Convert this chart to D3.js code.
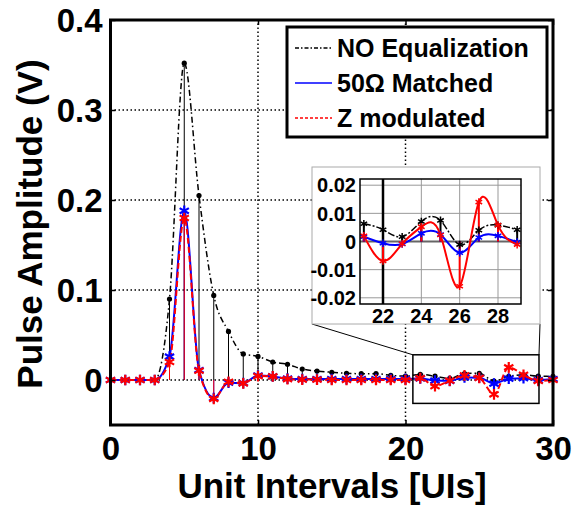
<!DOCTYPE html>
<html>
<head>
<meta charset="utf-8">
<script src="https://cdn.jsdelivr.net/npm/d3@7"></script>
<style>
  body { margin: 0; background: #fff; }
  text { font-family: "Liberation Sans", Arial, sans-serif; font-weight: bold; fill: #000; }
</style>
</head>
<body>
<div id="chart"></div>
<script>
// ---------------- data ----------------
const unitIntervals = [0,1,2,3,4,5,6,7,8,9,10,11,12,13,14,15,16,17,18,19,20,21,22,23,24,25,26,27,28,29,30];
const noEqualization = [0,0,0,0,0.09,0.352,0.205,0.094,0.054,0.029,0.0262,0.020,0.0175,0.0122,0.010,0.0086,0.0074,0.007,0.007,0.0052,0.0044,
  0.0063,0.0042,0.0017,0.0071,0.0075,-0.0011,0.0040,0.0058,0.0042,0.004];
const matched50 = [0,0,0,0,0.026,0.188,0.011,-0.020,-0.003,-0.0035,0.005,0.004,0.0015,0.001,0.001,0.001,0.001,0.001,0.001,0.001,0.001,
  0.0017,-0.0006,-0.0009,0.0029,0.0025,-0.0040,0.0014,0.0020,-0.0002,0.001];
const zModulated = [0,0,0,0,0.020,0.180,0.0103,-0.021,-0.002,-0.0037,0.0044,0.004,0.001,0.0005,0.0005,0,0,0,0,0,0,
  0.0020,-0.0069,-0.0008,0.0052,0.0023,-0.0159,0.0140,0.0058,-0.0011,0];

const xTicks = [0, 10, 20, 30];
const yTicks = [0, 0.1, 0.2, 0.3, 0.4];
const yTickLabels = ["0", "0.1", "0.2", "0.3", "0.4"];
const xGrid = [10, 20];
const yGrid = [0, 0.1, 0.2, 0.3];
const insetXTicks = [22, 24, 26, 28];
const insetYTicks = [-0.02, -0.01, 0, 0.01, 0.02];
const insetYTickLabels = ["-0.02", "-0.01", "0", "0.01", "0.02"];
const legendLabels = ["NO Equalization", "50\u03A9 Matched", "Z modulated"];
const zoomWindowX = [20.5, 29.05];
const zoomWindowY = [-0.026, 0.028];

// ---------------- setup ----------------
const width = 578, height = 506;

const svg = d3.select("#chart").append("svg")
  .attr("width", width)
  .attr("height", height);

const x = d3.scaleLinear().domain([0, 30]).range([110.5, 553]);
const y = d3.scaleLinear().domain([-0.05, 0.4]).range([425, 20]);

const series = [
  { name: legendLabels[0], values: noEqualization, color: "#000", dash: "6,3,1.5,3", w: 1.5, marker: "dot" },
  { name: legendLabels[1], values: matched50, color: "#0000ff", dash: null, w: 2, marker: "star" },
  { name: legendLabels[2], values: zModulated, color: "#ff0000", dash: "6,3", w: 2, marker: "star" }
];

// ---------------- grid ----------------
const grid = svg.append("g").attr("stroke", "#000").attr("stroke-width", 1.5).attr("stroke-dasharray", "1.5,2.5");
grid.selectAll(".gx").data(xGrid).enter().append("line")
  .attr("x1", d => x(d)).attr("x2", d => x(d))
  .attr("y1", y.range()[0]).attr("y2", y.range()[1]);
grid.selectAll(".gy").data(yGrid).enter().append("line")
  .attr("x1", x.range()[0]).attr("x2", x.range()[1])
  .attr("y1", d => y(d)).attr("y2", d => y(d));

// ---------------- stems ----------------
series.forEach(s => {
  svg.append("g").selectAll("line")
    .data(unitIntervals).enter().append("line")
    .attr("x1", d => x(d)).attr("x2", d => x(d))
    .attr("y1", y(0)).attr("y2", (d, i) => y(s.values[i]))
    .attr("stroke", s.color).attr("stroke-width", 1);
});

// ---------------- lines ----------------
const line = d3.line()
  .x(d => x(d[0]))
  .y(d => y(d[1]))
  .curve(d3.curveMonotoneX);

series.forEach(s => {
  svg.append("path")
    .datum(unitIntervals.map((u, i) => [u, s.values[i]]))
    .attr("d", line)
    .attr("fill", "none")
    .attr("stroke", s.color)
    .attr("stroke-width", s.w)
    .attr("stroke-dasharray", s.dash);
});

// ---------------- markers ----------------
const star = d3.symbol(d3.symbolAsterisk, 80);
series.forEach(s => {
  const g = svg.append("g");
  if (s.marker === "dot") {
    g.selectAll("circle").data(unitIntervals).enter().append("circle")
      .attr("cx", d => x(d)).attr("cy", (d, i) => y(s.values[i]))
      .attr("r", 2.6).attr("fill", s.color);
  } else {
    g.selectAll("path").data(unitIntervals).enter().append("path")
      .attr("d", star)
      .attr("transform", (d, i) => "translate(" + x(d) + "," + y(s.values[i]) + ")")
      .attr("fill", "none").attr("stroke", s.color).attr("stroke-width", 2.2);
  }
});

// ---------------- axes ----------------
const xAxis = d3.axisBottom(x).tickValues(xTicks).tickSize(-5).tickPadding(12);
const yAxis = d3.axisLeft(y).tickValues(yTicks).tickFormat((d, i) => yTickLabels[i]).tickSize(-5).tickPadding(8);

const gx = svg.append("g").attr("transform", "translate(0," + y.range()[0] + ")").call(xAxis);
const gy = svg.append("g").attr("transform", "translate(" + x.range()[0] + ",0)").call(yAxis);
svg.append("g").attr("transform", "translate(0," + y.range()[1] + ")")
  .call(d3.axisTop(x).tickValues(xTicks).tickSize(-5).tickFormat(""));
svg.append("g").attr("transform", "translate(" + x.range()[1] + ",0)")
  .call(d3.axisRight(y).tickValues(yTicks).tickSize(-5).tickFormat(""));

svg.selectAll(".domain").remove();
svg.selectAll(".tick line").attr("stroke", "#000").attr("stroke-width", 1.5);
gx.selectAll("text").style("font-size", "33px").attr("fill", "#000");
gy.selectAll("text").style("font-size", "33px").attr("fill", "#000").attr("dy", "0.36em");

// frame
svg.append("rect")
  .attr("x", x.range()[0]).attr("y", y.range()[1])
  .attr("width", x.range()[1] - x.range()[0])
  .attr("height", y.range()[0] - y.range()[1])
  .attr("fill", "none").attr("stroke", "#000").attr("stroke-width", 3);

// axis titles
svg.append("text")
  .attr("x", 332).attr("y", 498)
  .attr("text-anchor", "middle")
  .style("font-size", "35px")
  .text("Unit Intervals [UIs]");

svg.append("text")
  .attr("transform", "translate(42,224) rotate(-90)")
  .attr("text-anchor", "middle")
  .style("font-size", "35px")
  .text("Pulse Amplitude (V)");

// ---------------- zoom window + connectors ----------------
const zx0 = x(zoomWindowX[0]), zx1 = x(zoomWindowX[1]);
const zy0 = y(zoomWindowY[1]), zy1 = y(zoomWindowY[0]);
const insetBox = { x0: 312, y0: 167, x1: 540, y1: 324 };

svg.append("rect")
  .attr("x", zx0).attr("y", zy0)
  .attr("width", zx1 - zx0).attr("height", zy1 - zy0)
  .attr("fill", "none").attr("stroke", "#000").attr("stroke-width", 1.5);

svg.append("line")
  .attr("x1", insetBox.x0).attr("y1", insetBox.y1).attr("x2", zx0).attr("y2", zy0)
  .attr("stroke", "#000").attr("stroke-width", 1);
svg.append("line")
  .attr("x1", insetBox.x1).attr("y1", insetBox.y1).attr("x2", zx1).attr("y2", zy0)
  .attr("stroke", "#000").attr("stroke-width", 1);

// ---------------- inset ----------------
svg.append("rect")
  .attr("x", insetBox.x0).attr("y", insetBox.y0)
  .attr("width", insetBox.x1 - insetBox.x0).attr("height", insetBox.y1 - insetBox.y0)
  .attr("fill", "#fff").attr("stroke", "#aaa").attr("stroke-width", 1);

const xi = d3.scaleLinear().domain([20.8, 29.2]).range([360, 521]);
const yi = d3.scaleLinear().domain([-0.0222, 0.0222]).range([304, 179]);

const inset = svg.append("g");
inset.append("defs").append("clipPath").attr("id", "insetClip")
  .append("rect").attr("x", 360).attr("y", 179).attr("width", 161).attr("height", 125);

// inset grid
inset.selectAll(".igx").data(insetXTicks).enter().append("line")
  .attr("x1", d => xi(d)).attr("x2", d => xi(d))
  .attr("y1", yi.range()[0]).attr("y2", yi.range()[1])
  .attr("stroke", "#999").attr("stroke-width", 1);
inset.selectAll(".igy").data(insetYTicks).enter().append("line")
  .attr("x1", xi.range()[0]).attr("x2", xi.range()[1])
  .attr("y1", d => yi(d)).attr("y2", d => yi(d))
  .attr("stroke", d => d === 0 ? "#666" : "#999").attr("stroke-width", d => d === 0 ? 2 : 1);
inset.append("line")
  .attr("x1", xi(insetXTicks[0])).attr("x2", xi(insetXTicks[0]))
  .attr("y1", yi.range()[0]).attr("y2", yi.range()[1])
  .attr("stroke", "#000").attr("stroke-width", 2.5);

const insetIdx = unitIntervals.map((u, i) => i).filter(i => unitIntervals[i] >= 21 && unitIntervals[i] <= 29);
const lineInset = d3.line().x(d => xi(d[0])).y(d => yi(d[1])).curve(d3.curveNatural);
const clipG = inset.append("g").attr("clip-path", "url(#insetClip)");

series.forEach(s => {
  clipG.append("g").selectAll("line").data(insetIdx).enter().append("line")
    .attr("x1", i => xi(unitIntervals[i])).attr("x2", i => xi(unitIntervals[i]))
    .attr("y1", yi(0)).attr("y2", i => yi(s.values[i]))
    .attr("stroke", s.color).attr("stroke-width", 2);
});
series.forEach(s => {
  clipG.append("path")
    .datum(insetIdx.map(i => [unitIntervals[i], s.values[i]]))
    .attr("d", lineInset)
    .attr("fill", "none")
    .attr("stroke", s.color)
    .attr("stroke-width", s.marker === "dot" ? 1.5 : 2)
    .attr("stroke-dasharray", s.marker === "dot" ? "7,2,2,2" : null);
});
const starSmall = d3.symbol(d3.symbolAsterisk, 40);
series.forEach(s => {
  clipG.append("g").selectAll("path").data(insetIdx).enter().append("path")
    .attr("d", starSmall)
    .attr("transform", i => "translate(" + xi(unitIntervals[i]) + "," + yi(s.values[i]) + ")")
    .attr("fill", "none").attr("stroke", s.color).attr("stroke-width", 1.5);
});

inset.append("rect")
  .attr("x", 360).attr("y", 179).attr("width", 161).attr("height", 125)
  .attr("fill", "none").attr("stroke", "#000").attr("stroke-width", 1.5);

inset.selectAll(".ixl").data(insetXTicks).enter().append("text")
  .attr("x", d => xi(d)).attr("y", 323)
  .attr("text-anchor", "middle").style("font-size", "20px")
  .text(d => d);
inset.selectAll(".iyl").data(insetYTicks).enter().append("text")
  .attr("x", 356).attr("y", d => yi(d)).attr("dy", "0.36em")
  .attr("text-anchor", "end").style("font-size", "20px")
  .text((d, i) => insetYTickLabels[i]);

// ---------------- legend ----------------
const legend = svg.append("g");
legend.append("rect")
  .attr("x", 287).attr("y", 27).attr("width", 260).attr("height", 110)
  .attr("fill", "#fff").attr("stroke", "#000").attr("stroke-width", 3);

const legendRows = [48, 83, 118];
series.forEach((s, i) => {
  legend.append("line")
    .attr("x1", 295).attr("x2", 332)
    .attr("y1", legendRows[i]).attr("y2", legendRows[i])
    .attr("stroke", s.color).attr("stroke-width", 1.5)
    .attr("stroke-dasharray", s.marker === "dot" ? "4,2,1.5,2" : (s.dash ? "3,2" : null));
  legend.append("text")
    .attr("x", 337).attr("y", legendRows[i] + 9)
    .style("font-size", "25px")
    .text(s.name);
});
</script>
</body>
</html>
